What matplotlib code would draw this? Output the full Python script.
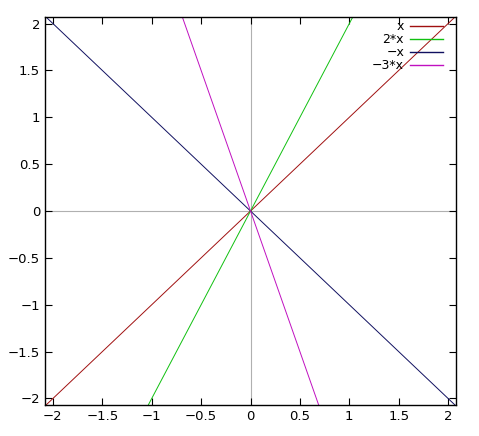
import numpy as np
import matplotlib
matplotlib.use("Agg")
import matplotlib.pyplot as plt

# functions plotted: label, slope, colour
labels = ["x", "2*x", "\u2212x", "\u22123*x"]
slopes = [1, 2, -1, -3]
colors = ["#a01010", "#10c010", "#101060", "#c010c0"]

xlim = (-2.08, 2.08)
ylim = (-2.07, 2.07)
xticks = [-2, -1.5, -1, -0.5, 0, 0.5, 1, 1.5, 2]
yticks = [-2, -1.5, -1, -0.5, 0, 0.5, 1, 1.5, 2]

fig = plt.figure(figsize=(4.79, 4.36), dpi=100)
ax = fig.add_axes([0.094, 0.071, 0.858, 0.890])

# zero axes in grey
ax.axhline(0, color="#b0b0b0", lw=0.8, zorder=1)
ax.axvline(0, color="#b0b0b0", lw=0.8, zorder=1)

x = np.linspace(xlim[0], xlim[1], 400)
for lab, k, c in zip(labels, slopes, colors):
    ax.plot(x, k * x, color=c, lw=0.7, label=lab, zorder=2)

ax.set_xlim(xlim)
ax.set_ylim(ylim)
ax.set_xticks(xticks)
ax.set_yticks(yticks)
ax.set_xticklabels([("%g" % v).replace("-", "\u2212") for v in xticks])
ax.set_yticklabels([("%g" % v).replace("-", "\u2212") for v in yticks])
ax.tick_params(direction="in", top=True, right=True, length=5, width=0.8, labelsize=9.5)
for s in ax.spines.values():
    s.set_linewidth(1.0)

leg = ax.legend(loc="upper right", bbox_to_anchor=(0.968, 0.992), frameon=False,
                markerfirst=False, fontsize=9, handlelength=2.6, handletextpad=0.5,
                labelspacing=0.0, borderaxespad=0.0, borderpad=0.0)
for h in leg.get_lines():
    h.set_linewidth(1.0)

fig.savefig("out.png", dpi=100)
